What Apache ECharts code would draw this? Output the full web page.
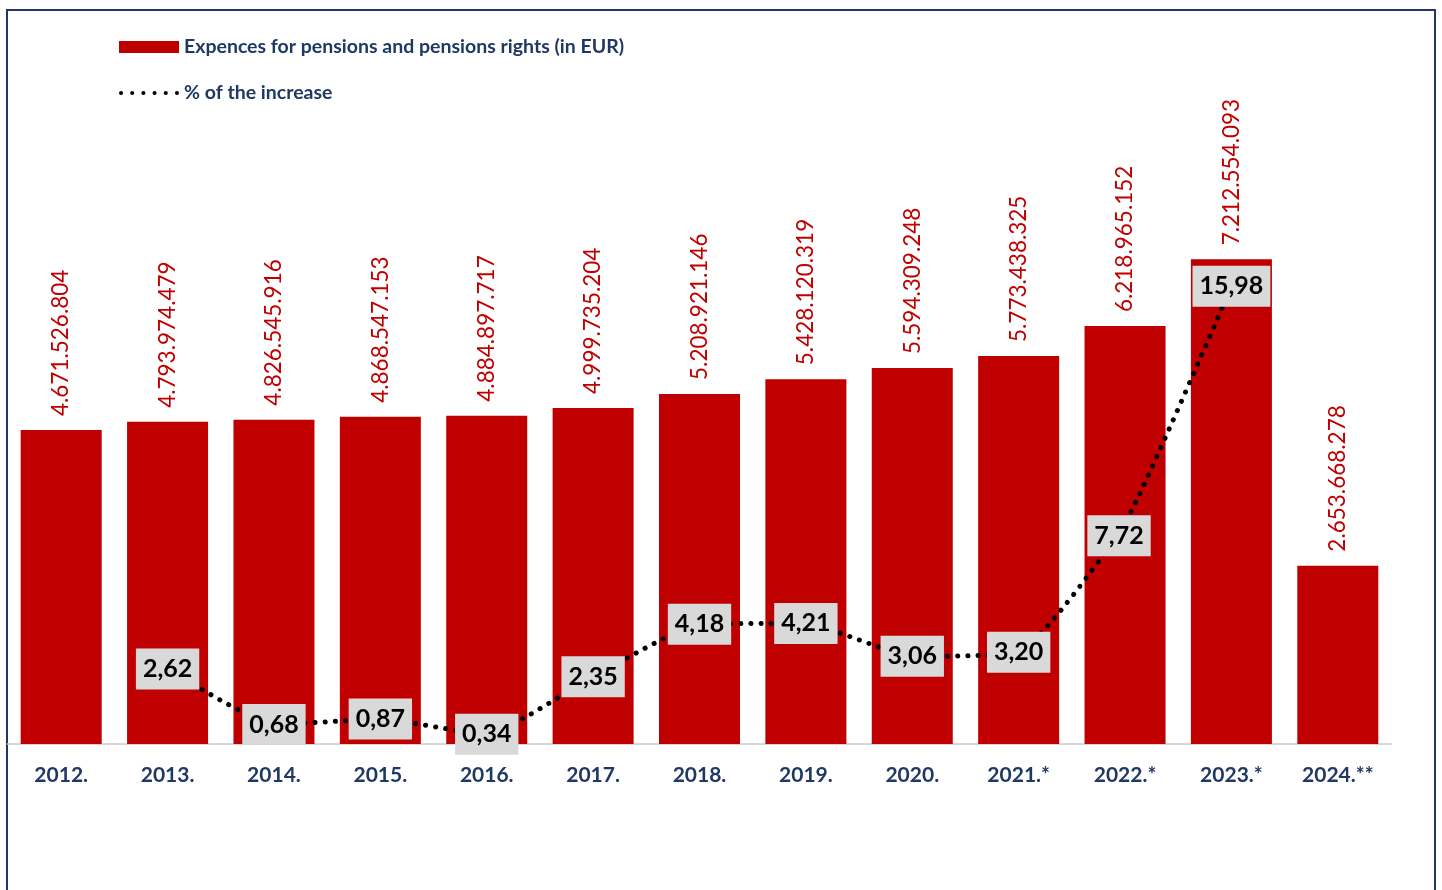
<!DOCTYPE html>
<html><head><meta charset="utf-8">
<script src="https://cdn.jsdelivr.net/npm/echarts@6/dist/echarts.min.js"></script>
<style>html,body{margin:0;padding:0;background:#fff}#c{width:1442px;height:890px}</style>
</head><body><div id="c"></div>
<script>
const categories = ['2012.','2013.','2014.','2015.','2016.','2017.','2018.','2019.','2020.','2021.*','2022.*','2023.*','2024.**'];
const expenses = [4671526804,4793974479,4826545916,4868547153,4884897717,4999735204,5208921146,5428120319,5594309248,5773438325,6218965152,7212554093,2653668278];
const increase = [null,2.62,0.68,0.87,0.34,2.35,4.18,4.21,3.06,3.20,7.72,15.98,null];
const barName = 'Expences for pensions and pensions rights (in EUR)';
const lineName = '% of the increase';

function fmtThousands(v){return String(v).replace(/\B(?=(\d{3})+(?!\d))/g,'.');}
function fmtPct(v){return v.toFixed(2).replace('.',',');}

const FONT = 'Lato, "Open Sans", sans-serif';
const lineData = increase.map((v,i)=>{
  if(v===null) return null;
  const o = {value:v};
  if(v===7.72) o.label = {offset:[-6,13]};
  return o;
});

const chart = echarts.init(document.getElementById('c'));
chart.setOption({
  animation:false,
  textStyle:{fontFamily:FONT},
  graphic:[{type:'rect',shape:{x:7,y:10,width:1428,height:900},style:{fill:'none',stroke:'#1F3864',lineWidth:2},silent:true}],
  legend:{
    orient:'vertical',left:114,top:30,itemGap:22,itemWidth:60,itemHeight:12,
    textStyle:{color:'#1F3864',fontWeight:'bold',fontSize:19.5,lineHeight:24,fontFamily:FONT},
    data:[{name:barName,icon:'rect'},
          {name:lineName,icon:'path://M0,2a2,2 0 1,0 4,0a2,2 0 1,0 -4,0M11,2a2,2 0 1,0 4,0a2,2 0 1,0 -4,0M22,2a2,2 0 1,0 4,0a2,2 0 1,0 -4,0M33,2a2,2 0 1,0 4,0a2,2 0 1,0 -4,0M44,2a2,2 0 1,0 4,0a2,2 0 1,0 -4,0M55,2a2,2 0 1,0 4,0a2,2 0 1,0 -4,0'}]
  },
  grid:{left:8,right:51,top:72,bottom:146,containLabel:false},
  xAxis:{type:'category',data:categories,
    axisLine:{lineStyle:{color:'#D9D9D9',width:2}},axisTick:{show:false},
    axisLabel:{color:'#1F3864',fontWeight:'bold',fontSize:21,margin:21,fontFamily:FONT}},
  yAxis:[{type:'value',min:0,max:10000000000,show:false,splitLine:{show:false}},
         {type:'value',min:0,max:23.46,show:false,splitLine:{show:false}}],
  series:[
    {name:barName,type:'bar',data:expenses,barWidth:81,yAxisIndex:0,
     itemStyle:{color:'#C00000'},
     label:{show:true,position:'top',rotate:90,align:'left',verticalAlign:'middle',distance:14,
       color:'#C00000',fontSize:22.5,fontFamily:FONT,formatter:p=>fmtThousands(p.value)}},
    {name:lineName,type:'line',data:lineData,yAxisIndex:1,smooth:0.15,connectNulls:false,
     symbol:'circle',symbolSize:1,showSymbol:true,
     itemStyle:{color:'#000'},
     lineStyle:{color:'#000',width:5,type:[0.1,10],cap:'round'},
     label:{show:true,position:'inside',formatter:p=>fmtPct(p.value),
       color:'#000',fontSize:25,fontFamily:FONT,fontWeight:'bold',backgroundColor:'#D9D9D9',padding:[9,7,7,7]},
     z:5}
  ]
});
</script></body></html>
